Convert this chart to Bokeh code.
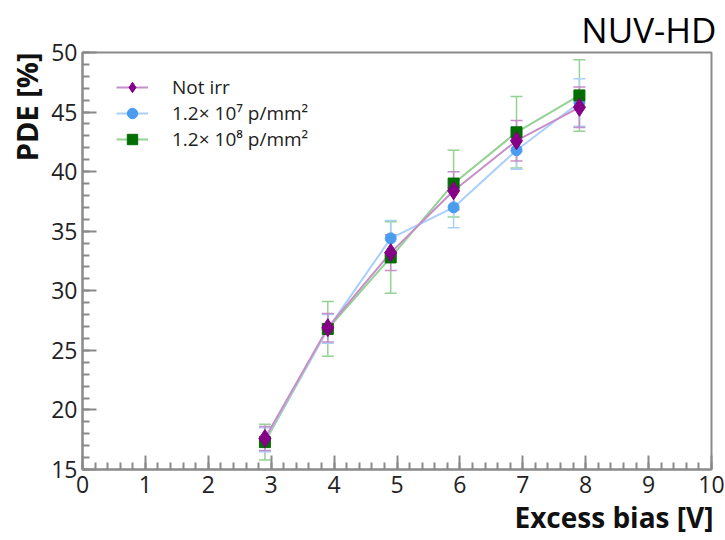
from bokeh.plotting import figure
from bokeh.models import (ColumnDataSource, Range1d, SingleIntervalTicker, Whisker,
                          TeeHead, Title, Legend, LegendItem)
from bokeh.embed import file_html
from bokeh.resources import INLINE

# ---- data ----
bias = [2.9, 3.9, 4.9, 5.9, 6.9, 7.9]

pde_notirr = [17.6, 26.9, 33.2, 38.4, 42.6, 45.4]
err_notirr = [1.0, 1.2, 1.5, 1.6, 1.7, 1.7]

pde_1e7 = [17.5, 26.8, 34.4, 37.0, 41.8, 45.8]
err_1e7 = [1.0, 1.2, 1.5, 1.7, 1.6, 2.0]

pde_1e8 = [17.3, 26.8, 32.8, 39.0, 43.3, 46.4]
err_1e8 = [1.5, 2.3, 3.0, 2.8, 3.0, 3.0]

series_labels = ["Not irr", "1.2× 10⁷ p/mm²", "1.2× 10⁸ p/mm²"]

FONT = "Open Sans"

p = figure(width=725, height=540, output_backend="svg", toolbar_location=None,
           x_range=Range1d(0, 10), y_range=Range1d(15, 50),
           min_border_left=82, min_border_right=14, min_border_top=52, min_border_bottom=71)
p.background_fill_color = "white"
p.border_fill_color = "white"
p.outline_line_color = "#8a8a8a"
p.outline_line_width = 2
p.xgrid.visible = False
p.ygrid.visible = False

p.xaxis.ticker = SingleIntervalTicker(interval=1, num_minor_ticks=5)
p.yaxis.ticker = SingleIntervalTicker(interval=5, num_minor_ticks=5)
for ax in (p.xaxis, p.yaxis):
    ax.major_tick_in = 14
    ax.major_tick_out = 0
    ax.minor_tick_in = 7
    ax.minor_tick_out = 0
    ax.axis_line_color = "#8a8a8a"
    ax.axis_line_width = 2
    ax.major_tick_line_color = "#8a8a8a"
    ax.minor_tick_line_color = "#8a8a8a"
    ax.major_tick_line_width = 2
    ax.minor_tick_line_width = 2
    ax.major_label_text_font = FONT
    ax.major_label_text_font_size = "23px"
    ax.major_label_text_color = "#222222"
p.xaxis.major_label_standoff = 6
p.yaxis.major_label_standoff = 5

specs = [
    (pde_1e8, err_1e8, "#006e00", "#93d293", "square", 11),
    (pde_1e7, err_1e7, "#4a9cee", "#a9cffb", "circle", 11),
    (pde_notirr, err_notirr, "#850085", "#c88ec8", "diamond", 18),
]

rend = {}
for vals, errs, mcol, lcol, marker, size in specs:
    src = ColumnDataSource(dict(
        x=bias, y=vals,
        lo=[v - e for v, e in zip(vals, errs)],
        hi=[v + e for v, e in zip(vals, errs)]))
    w = Whisker(source=src, base="x", upper="hi", lower="lo", dimension="height",
                line_color=lcol, line_width=1.5,
                upper_head=TeeHead(size=12, line_color=lcol, line_width=1.5),
                lower_head=TeeHead(size=12, line_color=lcol, line_width=1.5))
    p.add_layout(w)
    rend[marker] = (src, mcol, lcol, size)

lines = {}
for marker in ["square", "circle", "diamond"]:
    src, mcol, lcol, size = rend[marker]
    lines[marker] = p.line("x", "y", source=src, line_color=lcol, line_width=2)

scat = {}
for marker in ["circle", "square", "diamond"]:
    src, mcol, lcol, size = rend[marker]
    scat[marker] = p.scatter("x", "y", source=src, marker=marker, size=size,
                             fill_color=mcol, line_color=mcol)

legend = Legend(items=[
    LegendItem(label=series_labels[0], renderers=[lines["diamond"], scat["diamond"]]),
    LegendItem(label=series_labels[1], renderers=[lines["circle"], scat["circle"]]),
    LegendItem(label=series_labels[2], renderers=[lines["square"], scat["square"]]),
], location=(34, 317), padding=0, margin=0, spacing=0,
    glyph_width=32, glyph_height=26, label_height=26, label_standoff=24,
    label_text_font=FONT, label_text_font_size="19px", label_text_color="#222222",
    border_line_color=None, background_fill_alpha=0)
p.add_layout(legend)

xt = Title(text="Excess bias [V]", align="right", text_font=FONT, text_font_size="28px",
           text_font_style="bold", text_color="#111111", standoff=0, offset=-2)
p.add_layout(xt, "below")
yt = Title(text="PDE [%]", align="right", text_font=FONT, text_font_size="29px",
           text_font_style="bold", text_color="#111111", standoff=6)
p.add_layout(yt, "left")
tt = Title(text="NUV-HD", align="right", text_font=FONT, text_font_size="35px",
           text_font_style="normal", text_color="#000000", standoff=0, offset=-5)
p.add_layout(tt, "above")

open("out.html", "w").write(file_html(p, INLINE))
